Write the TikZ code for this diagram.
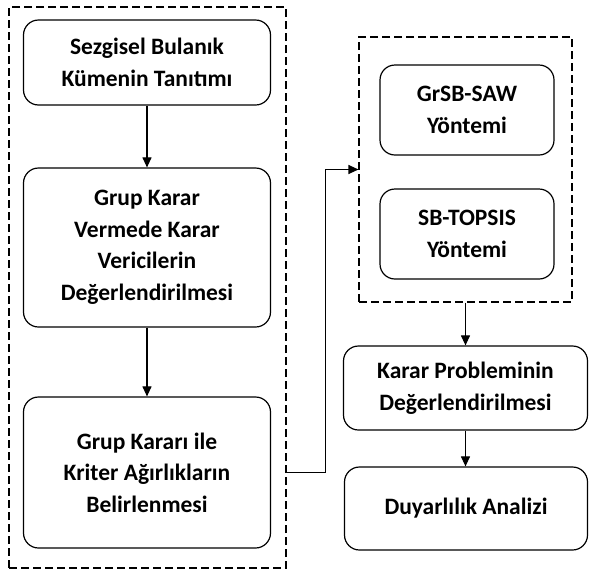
\documentclass[tikz,border=0pt]{standalone}
\usepackage{fontspec}
\setmainfont{Carlito}
\usetikzlibrary{arrows.meta,calc}
\begin{document}
\begin{tikzpicture}[x=1pt,y=-1pt,
  box/.style={draw, line width=1.2pt, rounded corners=15pt, align=center,
    font=\bfseries\fontsize{23.5}{31.5}\selectfont, inner sep=0pt},
  group/.style={draw, line width=1.1pt, dash pattern=on 8pt off 4pt, inner sep=0pt},
  arr/.style={line width=1.1pt, -{Triangle[length=10pt,width=9pt]}}]
\useasboundingbox (0,0) rectangle (589,571);
\node[group, minimum width=277pt, minimum height=561pt] (L) at (147.5,287.5) {};
\node[group, minimum width=213pt, minimum height=265pt] (R) at (465.5,169.5) {};
\node[box, minimum width=247pt, minimum height=85pt] (B1) at (147,62.5) {Sezgisel Bulanık\\Kümenin Tanıtımı};
\node[box, minimum width=247pt, minimum height=159pt] (B2) at (147,247.5) {Grup Karar\\Vermede Karar\\Vericilerin\\Değerlendirilmesi};
\node[box, minimum width=247pt, minimum height=151pt] (B3) at (147,472.5) {Grup Kararı ile\\Kriter Ağırlıkların\\Belirlenmesi};
\node[box, minimum width=174pt, minimum height=90pt] (S1) at (467,110) {GrSB-SAW\\Yöntemi};
\node[box, minimum width=174pt, minimum height=90pt] (S2) at (467,234) {SB-TOPSIS\\Yöntemi};
\node[box, minimum width=244pt, minimum height=84pt] (K) at (465.5,388) {Karar Probleminin\\Değerlendirilmesi};
\node[box, minimum width=243pt, minimum height=83pt] (D) at (466,508.5) {Duyarlılık Analizi};
\draw[arr] (B1.south) -- (B2.north);
\draw[arr] (B2.south) -- (B3.north);
\draw[arr] (B3 -| L.east) -- ++(39,0) |- (R.west);
\draw[arr] (R.south) -- (K.south |- K.north);
\draw[arr] (K.south) -- (K.south |- D.north);
\end{tikzpicture}
\end{document}
